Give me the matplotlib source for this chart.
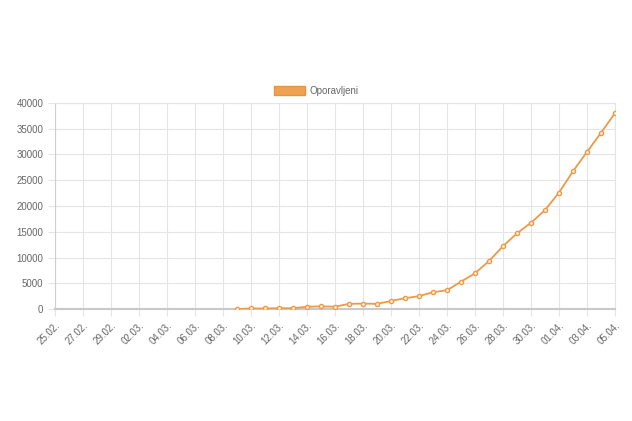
import numpy as np
import pandas as pd
import matplotlib
matplotlib.use("Agg")
import matplotlib.pyplot as plt
from matplotlib.patches import Patch

plt.rcParams['font.family'] = ['Liberation Sans', 'DejaVu Sans']

# datumi 25.02. - 05.04.
dates = pd.date_range("2020-02-25", "2020-04-05", freq="D")
labels = [d.strftime("%d.%m.") for d in dates]

# oporavljeni od 09.03. dalje
recovered_start = "09.03."
recovered = [0, 100, 100, 150, 150, 450, 500, 450, 1000, 1050, 1000, 1550,
             2100, 2500, 3250, 3650, 5300, 6950, 9300, 12200, 14700, 16750,
             19200, 22600, 26750, 30500, 34200, 38050]

values = np.full(len(labels), np.nan)
i0 = labels.index(recovered_start)
values[i0:i0 + len(recovered)] = recovered

line_col = "#ec9a48"
grid_col = "#e5e5e5"
txt_col = "#666666"

fig = plt.figure(figsize=(6.32, 4.21), dpi=100)
ax = fig.add_axes([55 / 632, 1 - 309 / 421, 560 / 632, 206 / 421])

x = np.arange(len(labels))
ax.plot(x, values, color=line_col, lw=1.3, marker="o", ms=3.0,
        mfc="#fdf1e4", mec=line_col, mew=1.0, zorder=3)

ax.set_xlim(0, len(labels) - 1)
ax.set_ylim(0, 40000)
ax.set_yticks(np.arange(0, 40001, 5000))
ax.set_xticks(x[::2])
ax.set_xticklabels(labels[::2], rotation=45, ha="right", rotation_mode="anchor")

ax.grid(True, color=grid_col, lw=0.8)
ax.tick_params(colors=grid_col, labelcolor=txt_col, labelsize=7, length=5, width=0.8)
for s in ["top", "right"]:
    ax.spines[s].set_color(grid_col)
    ax.spines[s].set_linewidth(0.8)
ax.spines["left"].set_color("#cfcfcf")
ax.spines["bottom"].set_color("#c8c8c8")
ax.spines["bottom"].set_linewidth(1.5)

handle = Patch(facecolor="#eea353", edgecolor="#e59440", lw=1, label="Oporavljeni")
fig.legend(handles=[handle], loc="center", bbox_to_anchor=(0.5, 1 - 91 / 421),
           frameon=False, fontsize=7, labelcolor=txt_col, handlelength=3.2,
           handleheight=1.0, handletextpad=0.5)

fig.savefig("out.png", dpi=100, facecolor="white")
